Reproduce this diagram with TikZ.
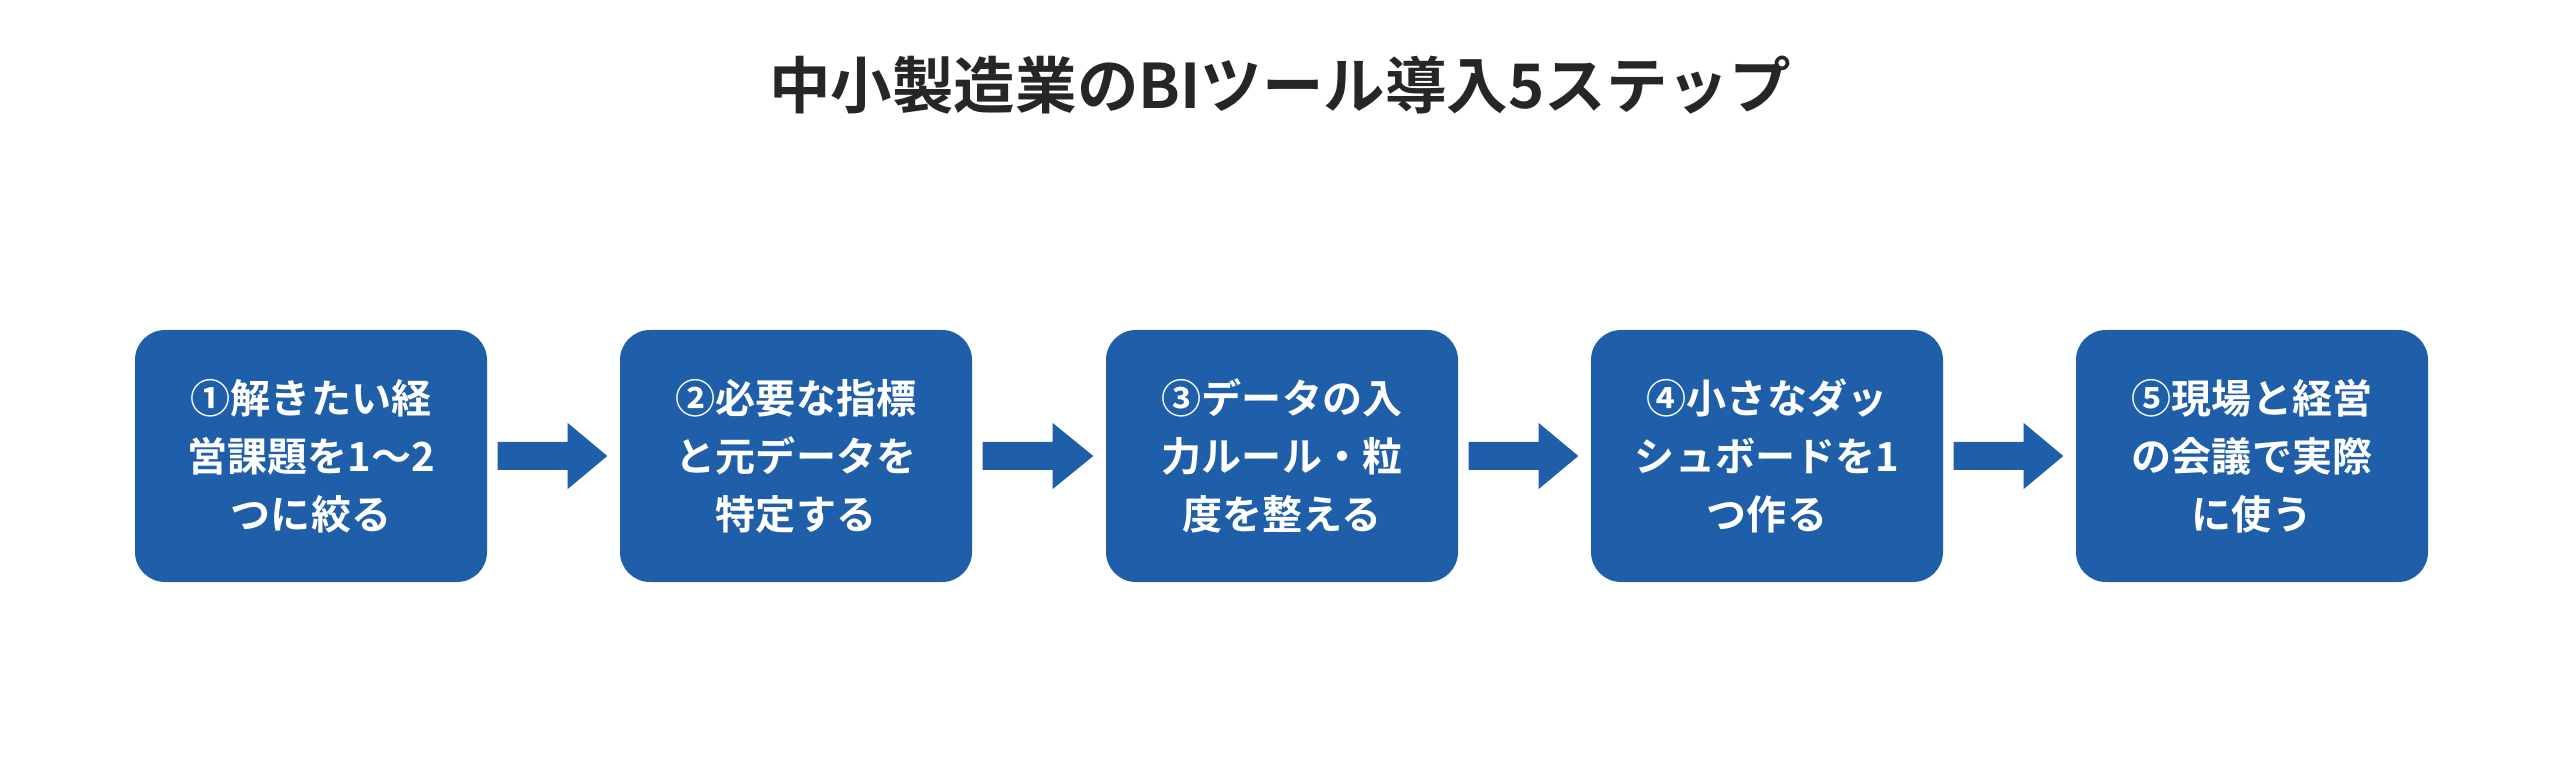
\documentclass[tikz,border=0pt]{standalone}
\usepackage{fontspec}
\setmainfont{Noto Sans CJK JP}[BoldFont={Noto Sans CJK JP Bold}]
\usetikzlibrary{calc}
\definecolor{boxc}{HTML}{1F5EA8}
\definecolor{tc}{HTML}{262626}
\begin{document}
\begin{tikzpicture}[
  stepbox/.style={fill=boxc,rounded corners=0.3cm,minimum width=3.52cm,minimum height=2.52cm,
    text=white,font=\bfseries\fontsize{11.4}{16.5}\selectfont,align=center,inner sep=0},
]
\useasboundingbox (0,0) rectangle (25.6,7.56);
\node[font=\bfseries\fontsize{17.5}{20}\selectfont,text=tc] (title) at (12.8,6.71) {中小製造業のBIツール導入5ステップ};
\node[stepbox] (b1) at (3.11,3.0) {①解きたい経\\営課題を1〜2\\つに絞る};
\node[stepbox] (b2) at (7.96,3.0) {②必要な指標\\と元データを\\特定する};
\node[stepbox] (b3) at (12.82,3.0) {③データの入\\力ルール・粒\\度を整える};
\node[stepbox] (b4) at (17.67,3.0) {④小さなダッ\\シュボードを1\\つ作る};
\node[stepbox] (b5) at (22.52,3.0) {⑤現場と経営\\の会議で実際\\に使う};
\foreach \a/\b in {b1/b2,b2/b3,b3/b4,b4/b5}{
  \fill[boxc] ($(\a.east)+(0.10,0.14)$) -- ++(0.70,0) -- ++(0,0.19) -- ($(\b.west)+(-0.12,0)$)
    -- ($(\a.east)+(0.80,-0.33)$) -- ++(0,0.19) -- ($(\a.east)+(0.10,-0.14)$) -- cycle;
}
\end{tikzpicture}
\end{document}
